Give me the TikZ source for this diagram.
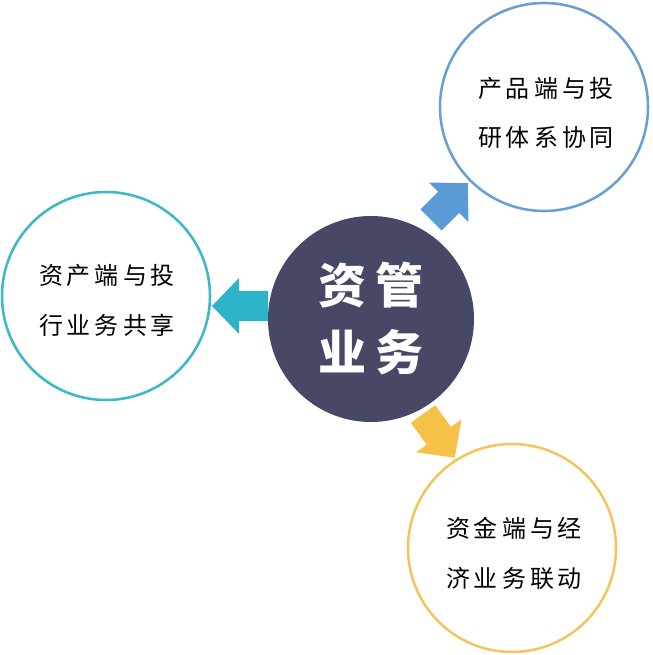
\documentclass[tikz,border=0pt]{standalone}
\usepackage{fontspec}
\newfontfamily\cjk{Noto Sans CJK SC}
\definecolor{darkc}{HTML}{474866}
\definecolor{bluec}{HTML}{5B9BD5}
\definecolor{bluel}{HTML}{6A9FD2}
\definecolor{tealc}{HTML}{2DB4C8}
\definecolor{teall}{HTML}{3DB8C6}
\definecolor{goldc}{HTML}{F6C147}
\definecolor{goldl}{HTML}{F3C55C}
\newcommand\blkarrow[4]{%
  \fill[#1,shift={#2},rotate=#3] (0,-15) -- ({#4-27},-15) -- ({#4-27},-28) -- (#4,0) -- ({#4-27},28) -- ({#4-27},15) -- (0,15) -- cycle;}
\newcommand\gk{\kern3pt}
\newcommand\gK{\kern7pt}
\begin{document}
\begin{tikzpicture}[x=0.75pt,y=-0.75pt,
  ring/.style={circle,draw,line width=1.9pt,minimum size=156pt,inner sep=0pt},
  hub/.style={circle,fill=darkc,minimum size=154.5pt,inner sep=0pt},
  txt/.style={font=\cjk\fontsize{18pt}{18pt}\selectfont,inner sep=0pt,text=black},
  bigtxt/.style={font=\cjk\bfseries\fontsize{36pt}{36pt}\selectfont,inner sep=0pt,text=white}]
\useasboundingbox (0,0) rectangle (652,655);
\fill[white] (0,0) rectangle (652,655);
% arrows
\blkarrow{bluec}{(431,220)}{45}{52}
\blkarrow{goldc}{(423,414)}{-54}{54}
\blkarrow{tealc}{(268,306)}{180}{56}
% circles
\node[hub] (hub) at (371,319) {};
\node[ring,draw=bluel] (prod) at (544,107) {};
\node[ring,draw=teall] (asset) at (106,296) {};
\node[ring,draw=goldl] (fund) at (512,548) {};
% texts
\node[bigtxt] (hub1) at (371,285) {资\gK 管};
\node[bigtxt] (hub2) at (371,352) {业\gK 务};
\node[txt] (prod1) at (546,88) {产\gk 品\gk 端\gk 与\gk 投};
\node[txt] (prod2) at (546,137) {研\gk 体\gk 系\gk 协\gk 同};
\node[txt] (asset1) at (107,275) {资\gk 产\gk 端\gk 与\gk 投};
\node[txt] (asset2) at (107,325) {行\gk 业\gk 务\gk 共\gk 享};
\node[txt] (fund1) at (514,528) {资\gk 金\gk 端\gk 与\gk 经};
\node[txt] (fund2) at (514,578) {济\gk 业\gk 务\gk 联\gk 动};
\end{tikzpicture}
\end{document}
